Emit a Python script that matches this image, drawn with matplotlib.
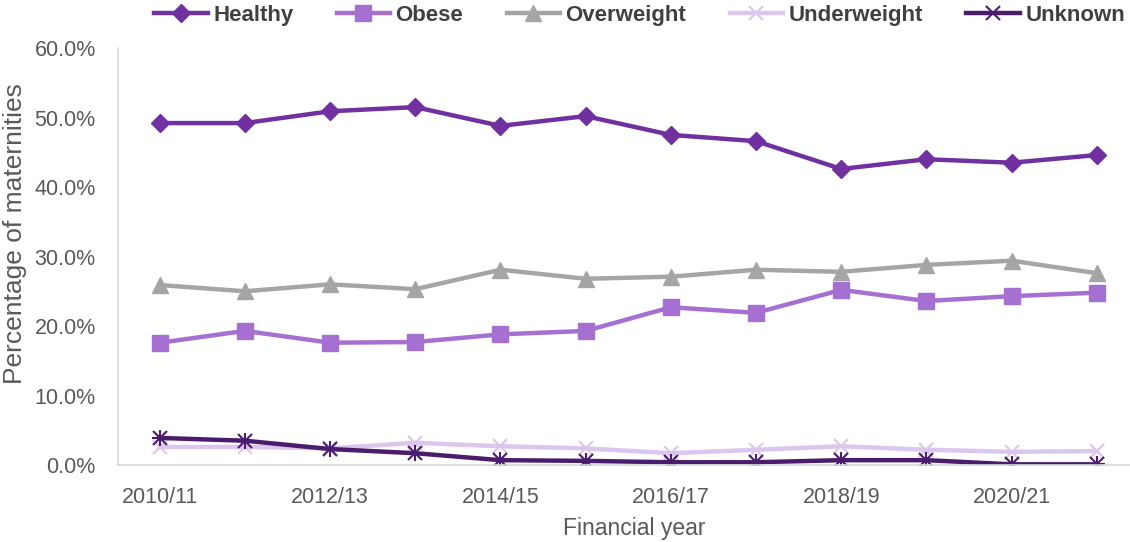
import matplotlib.pyplot as plt
from matplotlib.ticker import PercentFormatter

plt.rcParams['font.family'] = ['Liberation Sans', 'DejaVu Sans']

years = ['2010/11', '2011/12', '2012/13', '2013/14', '2014/15', '2015/16',
         '2016/17', '2017/18', '2018/19', '2019/20', '2020/21', '2021/22']

healthy = [49.2, 49.2, 50.9, 51.5, 48.8, 50.2, 47.5, 46.6, 42.6, 44.0, 43.5, 44.6]
obese = [17.6, 19.3, 17.6, 17.7, 18.8, 19.3, 22.7, 21.9, 25.2, 23.6, 24.3, 24.8]
overweight = [25.9, 25.0, 26.0, 25.3, 28.1, 26.8, 27.1, 28.1, 27.8, 28.8, 29.4, 27.6]
underweight = [2.6, 2.6, 2.4, 3.2, 2.7, 2.4, 1.7, 2.2, 2.7, 2.2, 1.9, 2.0]
unknown = [3.9, 3.5, 2.3, 1.7, 0.7, 0.6, 0.4, 0.4, 0.7, 0.7, 0.1, 0.1]

fig = plt.figure(figsize=(11.3, 5.42), dpi=100)
ax = fig.add_axes([0.1044, 0.142, 0.8956, 0.7694])

x = list(range(len(years)))
lw = 3.2
ax.plot(x, healthy, color='#7030A0', lw=lw, marker='D', ms=9, label='Healthy')
ax.plot(x, obese, color='#A66FD2', lw=lw, marker='s', ms=12, label='Obese')
ax.plot(x, overweight, color='#A5A5A5', lw=lw, marker='^', ms=11, label='Overweight')
ax.plot(x, underweight, color='#DCC6EE', lw=lw, marker='x', ms=10, mew=1.5, label='Underweight')
ax.plot(x, unknown, color='#4B1C6E', lw=lw, marker='x', ms=10, mew=1.5, label='Unknown')
ax.plot(x, unknown, color='#4B1C6E', lw=0, marker='+', ms=12, mew=1.5)

ax.set_ylim(0, 60)
ax.set_xlim(-0.49, 11.39)
ax.yaxis.set_major_formatter(PercentFormatter(decimals=1))
ax.set_yticks(range(0, 61, 10))
ax.set_xticks(x[::2])
ax.set_xticklabels(years[::2])
ax.tick_params(length=0, colors='#595959')
ax.tick_params(axis='y', labelsize=15.5, pad=16)
ax.tick_params(axis='x', labelsize=15.5, pad=16)

for s in ['top', 'right']:
    ax.spines[s].set_visible(False)
ax.spines['left'].set_color('#D9D9D9')
ax.spines['bottom'].set_color('#D9D9D9')
ax.spines['left'].set_linewidth(1.2)
ax.spines['bottom'].set_linewidth(1.2)

ax.set_ylabel('Percentage of maternities', fontsize=19, color='#595959')
ax.yaxis.set_label_coords(-0.09, 0.556)
ax.set_xlabel('Financial year', fontsize=16.5, color='#595959')
ax.xaxis.set_label_coords(0.51, -0.125)

handles, labels = ax.get_legend_handles_labels()
leg = fig.legend(handles, labels, loc='center', bbox_to_anchor=(0.566, 0.972), ncol=5,
                 frameon=False, prop={'weight': 'bold', 'size': 16}, handlelength=2.4,
                 handletextpad=0.25, columnspacing=1.95, borderaxespad=0)
for t in leg.get_texts():
    t.set_color('#404040')

fig.savefig('out.png', dpi=100)
